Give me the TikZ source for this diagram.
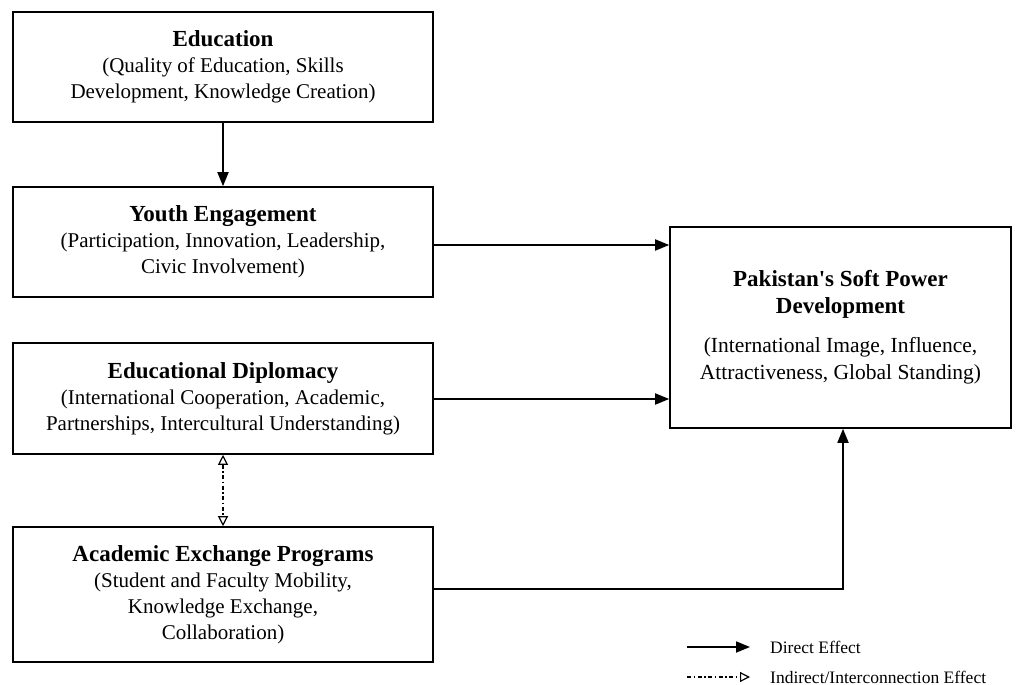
\documentclass[tikz,border=0pt]{standalone}
\usepackage{fontspec}
\setmainfont[Ligatures=TeXOff]{Liberation Serif}
\usetikzlibrary{arrows.meta}
\newcommand{\ttl}[1]{{\fontsize{23}{26}\selectfont\bfseries #1}}
\begin{document}
\begin{tikzpicture}[x=1pt,y=-1pt,
  box/.style={draw, line width=1.6pt, rectangle, align=center, inner sep=0pt,
    font=\fontsize{21}{26}\selectfont},
  direct/.style={line width=1.8pt, -{Triangle[length=14pt,width=11pt]}},
  dashdot/.style={line width=1.3pt, dash pattern=on 4pt off 2.5pt on 1.5pt off 2.5pt},
  opentip/.style={Triangle[open,length=10pt,width=10pt,line width=1.2pt]},
  indirect/.style={dashdot, {Triangle[open,length=10pt,width=10pt,line width=1.2pt]}-{Triangle[open,length=10pt,width=10pt,line width=1.2pt]}},
  indirectone/.style={dashdot, -{Triangle[open,length=10pt,width=10pt,line width=1.2pt]}},
  legend/.style={font=\fontsize{17.5}{20}\selectfont, anchor=base west, inner sep=0pt}]
\useasboundingbox (0,0) rectangle (1017,685);
\node[box, minimum width=420pt, minimum height=110pt] (edu) at (223,67)
  {\ttl{Education}\\(Quality of Education, Skills\\Development, Knowledge Creation)};
\node[box, minimum width=420pt, minimum height=110pt] (youth) at (223,242)
  {\ttl{Youth Engagement}\\(Participation, Innovation, Leadership,\\Civic Involvement)};
\node[box, minimum width=420pt, minimum height=111pt] (dipl) at (223,398.5)
  {\ttl{Educational Diplomacy}\\(International Cooperation, Academic,\\Partnerships, Intercultural Understanding)};
\node[box, minimum width=420pt, minimum height=135pt] (acad) at (223,594.5)
  {\ttl{Academic Exchange Programs}\\(Student and Faculty Mobility,\\Knowledge Exchange,\\Collaboration)};
\node[box, minimum width=341pt, minimum height=201pt, font=\fontsize{21.5}{27}\selectfont] (pak) at (840.5,327.5)
  {\ttl{Pakistan's Soft Power}\\\ttl{Development}\\[12pt](International Image, Influence,\\Attractiveness, Global Standing)};
\draw[direct] (edu.south) -- (youth.north);
\draw[direct] (youth.east |- 0,245) coordinate (y1) -- (pak.west |- y1);
\draw[direct] (dipl.east |- 0,399) coordinate (d1) -- (pak.west |- d1);
\coordinate (a1) at (acad.east |- 0,589);
\coordinate (a2) at (843,589);
\draw[direct] (a1) -- (a2) -- (a2 |- pak.south);
\draw[indirect] (dipl.south) -- (acad.north);
% legend
\coordinate (l1) at (687,647);
\coordinate (l2) at (750,647);
\draw[direct] (l1) -- (l2);
\node[legend] (lt1) at (770,653) {Direct Effect};
\coordinate (l3) at (687,677);
\coordinate (l4) at (750,677);
\draw[indirectone] (l3) -- (l4);
\node[legend] (lt2) at (770,683) {Indirect/Interconnection Effect};
\end{tikzpicture}
\end{document}
